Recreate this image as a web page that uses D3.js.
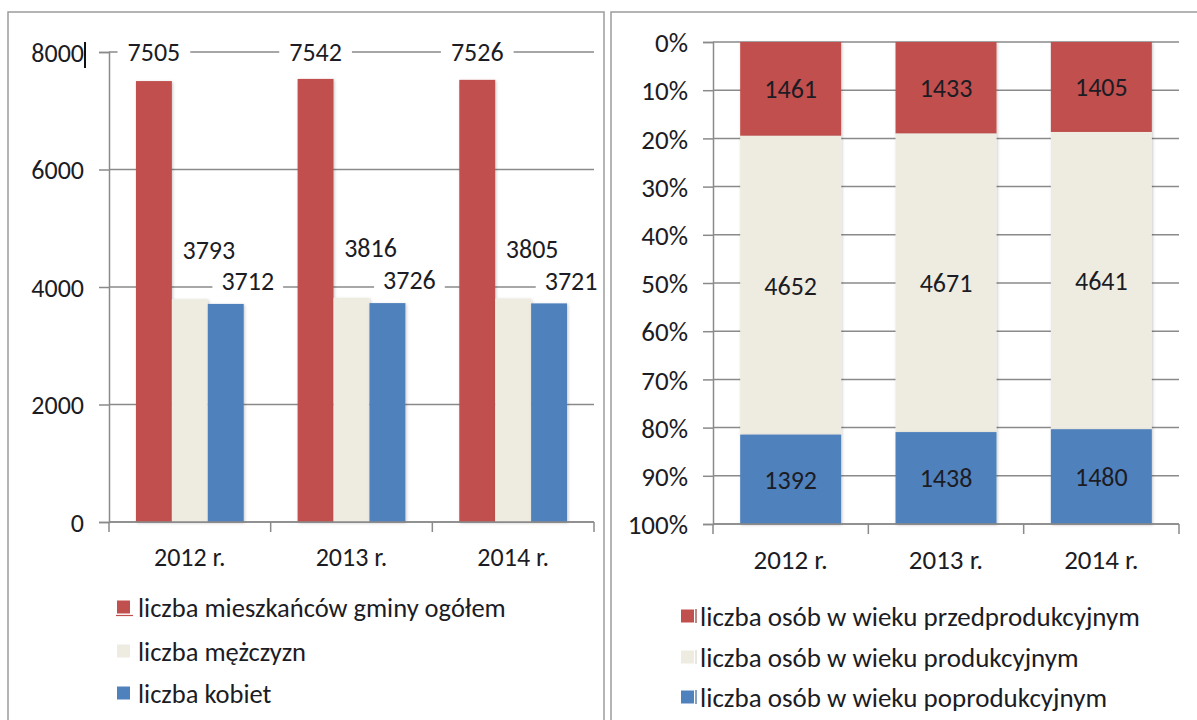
<!DOCTYPE html>
<html>
<head>
<meta charset="utf-8">
<script src="https://cdn.jsdelivr.net/npm/d3@7"></script>
<style>
    body { margin: 0; background: #fff; }
    svg text { font-family: Carlito, Calibri, Lato, sans-serif; fill: #1c1c24; }
</style>
</head>
<body>
<div id="chart"></div>
<script>
// data
const years = ["2012 r.", "2013 r.", "2014 r."];
const totalPop = [7505, 7542, 7526];
const menPop = [3793, 3816, 3805];
const womenPop = [3712, 3726, 3721];
const leftTicks = [0, 2000, 4000, 6000, 8000];
const leftNames = ["liczba mieszkańców gminy ogółem", "liczba mężczyzn", "liczba kobiet"];

const preProd = [1461, 1433, 1405];
const prod = [4652, 4671, 4641];
const postProd = [1392, 1438, 1480];
const rightNames = ["liczba osób w wieku przedprodukcyjnym", "liczba osób w wieku produkcyjnym", "liczba osób w wieku poprodukcyjnym"];

const colors = ["#c0504d", "#eeece1", "#4f81bd"];
const edge = ["#8e3b39", "#d8d6cb", "#3a6393"];
const gridColor = "#8a8a8a";
const fontFamily = "Carlito, Calibri, Lato, sans-serif";

const W = 1197, H = 720;
const svg = d3.select("#chart").append("svg")
    .attr("width", W)
    .attr("height", H);

let defs = svg.append("defs");
defs.append("filter")
    .attr("id", "shadow")
    .attr("x", "-20%").attr("y", "-20%").attr("width", "140%").attr("height", "140%")
    .append("feDropShadow")
    .attr("dx", 1).attr("dy", 1)
    .attr("stdDeviation", 1.5)
    .attr("flood-color", "#000")
    .attr("flood-opacity", 0.22);

function drawXAxis(g, x, y0, fs) {
    let bounds = x.domain().map(d => x(d) - (x.step() - x.bandwidth()) / 2);
    bounds.push(x.range()[1]);
    g.append("line")
        .attr("x1", x.range()[0]).attr("x2", x.range()[1])
        .attr("y1", y0).attr("y2", y0)
        .attr("stroke", gridColor).attr("stroke-width", 1.5);
    g.selectAll(".xtick").data(bounds).enter()
        .append("line")
        .attr("x1", d => d).attr("x2", d => d)
        .attr("y1", y0).attr("y2", y0 + 10)
        .attr("stroke", gridColor).attr("stroke-width", 1.5);
    g.selectAll(".xlab").data(x.domain()).enter()
        .append("text")
        .attr("x", d => x(d) + x.bandwidth() / 2)
        .attr("y", y0 + 35)
        .attr("dy", "0.36em")
        .attr("text-anchor", "middle")
        .style("font-size", fs + "px")
        .text(d => d);
}

function drawYAxis(g, y, ticks, fmt, xLeft, xRight, fs) {
    g.selectAll(".grid").data(ticks).enter()
        .append("line")
        .attr("x1", xLeft).attr("x2", xRight)
        .attr("y1", d => y(d)).attr("y2", d => y(d))
        .attr("stroke", gridColor).attr("stroke-width", 1.5);
    let axis = g.append("g")
        .attr("transform", "translate(" + xLeft + ",0)")
        .call(d3.axisLeft(y).tickValues(ticks).tickFormat(fmt).tickSize(10).tickPadding(15));
    axis.select(".domain").attr("stroke", gridColor).attr("stroke-width", 1.5);
    axis.selectAll(".tick line").attr("stroke", gridColor).attr("stroke-width", 1.5);
    axis.selectAll(".tick text")
        .attr("fill", "#1c1c24")
        .attr("dy", "0.36em")
        .style("font-family", fontFamily)
        .style("font-size", fs + "px");
}

function drawLegend(g, names, x0, ys, withBar, fs) {
    names.forEach((name, i) => {
        g.append("rect")
            .attr("x", x0).attr("y", ys[i] - 6.5)
            .attr("width", 13).attr("height", 13)
            .attr("fill", colors[i]);
        if (withBar) {
            g.append("line")
                .attr("x1", x0 + 15).attr("x2", x0 + 15)
                .attr("y1", ys[i] - 7).attr("y2", ys[i] + 7)
                .attr("stroke", edge[i]).attr("stroke-width", 1.2);
        }
        g.append("text")
            .attr("x", x0 + (withBar ? 19 : 21))
            .attr("y", ys[i])
            .attr("dy", "0.36em")
            .style("font-size", fs + "px")
            .text(name);
    });
}

// ---------- left chart: grouped bars ----------
let left = svg.append("g");
let x0 = d3.scaleBand().domain(years).range([109, 594]).padding(0);
let x1 = d3.scaleBand().domain(leftNames).range([0, x0.bandwidth()])
    .paddingInner(0).paddingOuter(0.75);
let yL = d3.scaleLinear().domain([0, 8000]).range([522, 52]);

drawYAxis(left, yL, leftTicks, d3.format("d"), 109, 594, 26);

let groups = [totalPop, menPop, womenPop];
let leftRows = years.map((yr, i) => ({ year: yr, values: groups.map((s, k) => ({ key: leftNames[k], k: k, v: s[i] })) }));

let barG = left.selectAll(".year").data(leftRows).enter()
    .append("g")
    .attr("transform", d => "translate(" + x0(d.year) + ",0)");
barG.selectAll("rect").data(d => d.values).enter()
    .append("rect")
    .attr("x", d => x1(d.key))
    .attr("y", d => yL(d.v))
    .attr("width", x1.bandwidth())
    .attr("height", d => yL(0) - yL(d.v))
    .attr("fill", d => colors[d.k])
    .attr("filter", "url(#shadow)");

drawXAxis(left, x0, 522, 26);

// value labels sit on white boxes, nudged like in the original
const labelShift = [[0, null], [19, -50], [22, -23]];
const boxPad = [10, 6, 9];
leftRows.forEach(row => {
    row.values.forEach(d => {
        let cx = x0(row.year) + x1(d.key) + x1.bandwidth() / 2 + labelShift[d.k][0];
        let cy = d.k === 0 ? 52 : yL(d.v) + labelShift[d.k][1];
        let t = left.append("text")
            .attr("x", cx).attr("y", cy)
            .attr("dy", "0.36em")
            .attr("text-anchor", "middle")
            .style("font-size", "26px")
            .text(d.v);
        let bb = t.node().getBBox();
        left.insert("rect", function () { return t.node(); })
            .attr("x", bb.x - boxPad[d.k]).attr("y", cy - 13)
            .attr("width", bb.width + 2 * boxPad[d.k]).attr("height", 26)
            .attr("fill", "#fff");
    });
});

drawLegend(left, leftNames, 117, [607, 651, 693], false, 26.5);
// underline under the first legend key
left.append("line")
    .attr("x1", 116).attr("x2", 133).attr("y1", 615.5).attr("y2", 615.5)
    .attr("stroke", colors[0]).attr("stroke-width", 1.2);
// text cursor left in the picture
left.append("line")
    .attr("x1", 85).attr("x2", 85).attr("y1", 42).attr("y2", 68)
    .attr("stroke", "#111").attr("stroke-width", 2);

// ---------- right chart: 100% stacked bars ----------
let right = svg.append("g");
let table = years.map((yr, i) => ({ year: yr, a: preProd[i], b: prod[i], c: postProd[i] }));
let stack = d3.stack().keys(["a", "b", "c"]).offset(d3.stackOffsetExpand);
let series = stack(table);
let raw = { a: preProd, b: prod, c: postProd };

let xR = d3.scaleBand().domain(years).range([713, 1179]).paddingInner(0.35).paddingOuter(0.175);
let yR = d3.scaleLinear().domain([0, 1]).range([42, 524]);

drawYAxis(right, yR, d3.range(0, 11).map(i => i / 10), d3.format(".0%"), 713, 1179, 27);

let layer = right.selectAll(".layer").data(series).enter()
    .append("g")
    .attr("fill", (d, i) => colors[i]);
layer.selectAll("rect").data(d => d).enter()
    .append("rect")
    .attr("x", d => xR(d.data.year))
    .attr("y", d => yR(d[0]))
    .attr("width", xR.bandwidth())
    .attr("height", d => yR(d[1]) - yR(d[0]))
    .attr("filter", "url(#shadow)");

series.forEach(s => {
    s.forEach((p, i) => {
        right.append("text")
            .attr("x", xR(p.data.year) + xR.bandwidth() / 2)
            .attr("y", (yR(p[0]) + yR(p[1])) / 2)
            .attr("dy", "0.36em")
            .attr("text-anchor", "middle")
            .style("font-size", "26px")
            .text(raw[s.key][i]);
    });
});

drawXAxis(right, xR, 524, 27);
drawLegend(right, rightNames, 681, [616, 657, 697], true, 27);

// panel frames on top
svg.append("rect")
    .attr("x", 8).attr("y", 12).attr("width", 596).attr("height", H + 10)
    .attr("fill", "none").attr("stroke", "#9c9c9c").attr("stroke-width", 1.5);
svg.append("rect")
    .attr("x", 611).attr("y", 12).attr("width", W).attr("height", H + 10)
    .attr("fill", "none").attr("stroke", "#9c9c9c").attr("stroke-width", 1.5);
</script>
</body>
</html>
